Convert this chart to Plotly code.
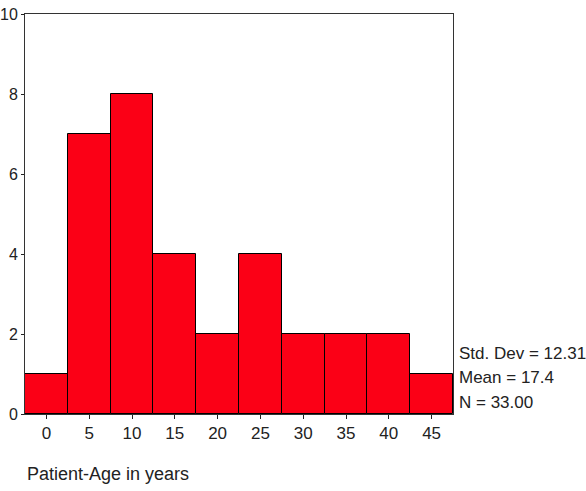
import plotly.graph_objects as go

bin_centers = [0, 5, 10, 15, 20, 25, 30, 35, 40, 45]
counts = [1, 7, 8, 4, 2, 4, 2, 2, 2, 1]
x_ticks = [0, 5, 10, 15, 20, 25, 30, 35, 40, 45]
y_ticks = [0, 2, 4, 6, 8, 10]
stats_lines = ["Std. Dev = 12.31", "Mean = 17.4", "N = 33.00"]
stats_y = [0.1525, 0.0925, 0.03]
x_title = "Patient-Age in years"

FONT = "Liberation Sans, Arial, sans-serif"

fig = go.Figure(go.Bar(
    x=bin_centers, y=counts, width=5,
    marker=dict(color="#fb0016", line=dict(color="black", width=1)),
))

fig.update_layout(
    width=586, height=491,
    margin=dict(l=25, r=133, t=14, b=77),
    paper_bgcolor="white", plot_bgcolor="white",
    showlegend=False, bargap=0,
    font=dict(family=FONT, size=17, color="#222"),
)
fig.update_xaxes(
    range=[-2.5, 47.5], tickvals=x_ticks, ticks="outside", ticklen=4,
    tickcolor="#222", showline=True, mirror=True, linecolor="#333",
    linewidth=1, showgrid=False, zeroline=False, automargin=False,
    tickfont=dict(size=17),
)
fig.update_yaxes(
    range=[0, 10], tickvals=y_ticks, ticks="outside", ticklen=3,
    tickcolor="#222", showline=True, mirror=True, linecolor="#333",
    linewidth=1, showgrid=False, zeroline=False, automargin=False,
    tickfont=dict(size=16), ticklabelstandoff=0,
)

for t, yy in zip(stats_lines, stats_y):
    fig.add_annotation(
        text=t, xref="paper", yref="paper", x=1.01, y=yy,
        xanchor="left", yanchor="middle", showarrow=False,
        font=dict(size=17, family=FONT, color="#222"),
    )

fig.add_annotation(
    text=x_title, xref="paper", yref="paper", x=0, y=-0.15,
    xanchor="left", yanchor="middle", showarrow=False,
    font=dict(size=18, family=FONT, color="#222"),
)

fig.write_html("out.html")
